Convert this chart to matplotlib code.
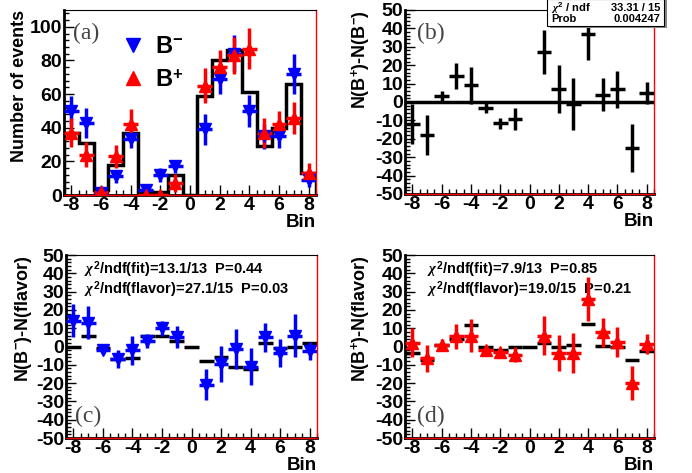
import numpy as np
import matplotlib
matplotlib.use("Agg")
import matplotlib.pyplot as plt
from matplotlib.ticker import MultipleLocator
from matplotlib.lines import Line2D
from matplotlib.patches import Rectangle

plt.rcParams['font.family'] = ['Liberation Sans', 'DejaVu Sans']
plt.rcParams['font.weight'] = 'bold'
plt.rcParams['axes.unicode_minus'] = False
plt.rcParams['mathtext.fontset'] = 'custom'
plt.rcParams['mathtext.rm'] = 'Liberation Sans:bold'
plt.rcParams['mathtext.bf'] = 'Liberation Sans:bold'
plt.rcParams['mathtext.it'] = 'Liberation Serif:italic'

# ---- data ----
bins = np.arange(-8, 9)                       # all 17 bins
bins_nz = np.array([b for b in bins if b != 0])  # bins with points

hist_sum = [37, 31, 3, 18, 37, 2, 2, 12, 0, 59, 80, 86, 61, 29, 40, 66, 13]

n_minus = [50, 43, 1, 11, 33, 3, 12, 17, 39, 69, 84, 50, 35, 35, 72, 9]
n_minus_err = [9, 9, 2, 4, 5, 3, 4, 4, 9, 9, 11, 9.5, 7.5, 7, 12, 4]
n_plus = [37, 24, 2, 23, 42, 0, 0, 7, 65, 76, 83, 87, 37, 42, 46, 13]
n_plus_err = [8.5, 7.5, 3.5, 7, 9, 1.5, 1, 5.5, 10.5, 10, 11, 12, 9, 8, 9.5, 6]

diff = [-12, -18, 3, 14, 9, -3, -11.5, -9, 27, 7, -1, 37, 4, 7, -25, 5]
diff_err = [11, 11, 3, 7, 10, 3, 3, 6, 12, 13, 14, 14, 9, 10, 13, 6]

flav_minus = [0, 6, -1, -7, -6.5, 5.5, 6, 3, 0, -8, -6, -11, -12.5, 2, -1, 0, 2]
res_minus = [14, 13, -2, -7, -2, 3, 10, 5, -21, -9.5, -1.5, -11, 5, -3.5, 6, -2.5]
res_minus_err = [9, 9, 2, 5, 8, 4, 4, 6, 8.5, 10, 11, 10, 8, 7.5, 11.5, 5]

flav_plus = [-3.5, -7.5, 1, 4, 12, -0.5, -2, 0, 0, 2, 0, 1, 12.3, 0.5, -0.5, -7.5, -2.5]
res_plus = [2, -6.5, 1, 5.5, 6, -2, -3, -4.5, 6, -3.5, -3.5, 26, 7.7, 2.5, -20, 1.5]
res_plus_err = [8, 7.5, 3, 7, 9, 2, 1.5, 4, 10.5, 10, 11, 12, 8, 8, 9.5, 5.5]

chi2_c = [r"$\chi^{2}$/ndf(fit)=13.1/13  P=0.44", r"$\chi^{2}$/ndf(flavor)=27.1/15  P=0.03"]
chi2_d = [r"$\chi^{2}$/ndf(fit)=7.9/13  P=0.85", r"$\chi^{2}$/ndf(flavor)=19.0/15  P=0.21"]

BLUE = "#0000ff"
RED = "#ff0000"
W, H = 692, 473

fig = plt.figure(figsize=(6.92, 4.73), dpi=100)


def px_axes(l, t, r, b):
    return fig.add_axes([l / W, 1 - b / H, (r - l) / W, (b - t) / H])


def style(ax, ylim, ymaj, ymin, ylabel):
    ax.set_xlim(-8.5, 8.5)
    ax.set_ylim(*ylim)
    ax.xaxis.set_major_locator(MultipleLocator(2))
    ax.xaxis.set_minor_locator(MultipleLocator(0.5))
    ax.yaxis.set_major_locator(MultipleLocator(ymaj))
    ax.yaxis.set_minor_locator(MultipleLocator(ymin))
    ax.tick_params(which="both", direction="in", top=False, right=False,
                   labelsize=14, width=1, pad=1.5)
    ax.tick_params(which="major", length=7)
    ax.tick_params(which="minor", length=3.5)
    for lab in ax.get_xticklabels() + ax.get_yticklabels():
        lab.set_fontweight("bold")
    ax.spines["left"].set_linewidth(2)
    ax.spines["bottom"].set_linewidth(2)
    ax.spines["top"].set_linewidth(0.8)
    ax.spines["right"].set_linewidth(1)
    ax.spines["right"].set_color(RED)
    # ROOT draws the red frame line over the bottom axis too
    ax.plot([0, 1], [0, 0], transform=ax.transAxes, color=RED, lw=1,
            clip_on=False, zorder=5)
    ax.set_xlabel("Bin", loc="right", fontsize=13.5, fontweight="bold", labelpad=0)
    ax.set_ylabel(ylabel, loc="top", fontsize=13, fontweight="bold", labelpad=1)


def points(ax, x, y, e, color, marker):
    ax.errorbar(x, y, yerr=e, xerr=0.5, fmt=marker, color=color, ms=8.5,
                elinewidth=2.5, capsize=0, zorder=4)


def tag(ax, text, x, y):
    ax.text(x, y, text, fontsize=17, family="Liberation Serif",
            fontweight="normal", color="#444444", va="center", ha="left")


# (a) event yields
ax = px_axes(64, 10, 316, 195)
ax.stairs(hist_sum, np.arange(-8.5, 9.5, 1), color="black", lw=2.5, baseline=0, zorder=3)
points(ax, bins_nz, n_minus, n_minus_err, BLUE, "v")
points(ax, bins_nz, n_plus, n_plus_err, RED, "^")
style(ax, (0, 110), 20, 4, "Number of events")
tag(ax, "(a)", -7.9, 96)
handles = [Line2D([], [], ls="none", marker="v", color=BLUE, ms=10),
           Line2D([], [], ls="none", marker="^", color=RED, ms=10)]
ax.legend(handles, ["B$^{-}$", "B$^{+}$"], loc="upper left",
          bbox_to_anchor=(0.135, 0.98), frameon=False, prop=dict(size=17, weight="bold"),
          handletextpad=0.3, labelspacing=0.45, handlelength=1.2)

# (b) B+ - B- difference
ax = px_axes(405, 10, 654, 194)
ax.axhline(0, color="black", lw=2.5, zorder=2)
ax.errorbar(bins_nz, diff, yerr=diff_err, xerr=0.5, fmt="none", ecolor="black",
            elinewidth=2.5, capsize=0, zorder=3)
style(ax, (-50, 50), 10, 2, "N(B$^{+}$)-N(B$^{-}$)")
tag(ax, "(b)", -7.7, 37)

# stats box
fig.add_artist(Rectangle((550 / W, 1 - 28 / H), 117 / W, 28 / H, transform=fig.transFigure,
                         facecolor="#888888", edgecolor="none", zorder=9))
fig.add_artist(Rectangle((547 / W, 1 - 26 / H), 117 / W, 27 / H, transform=fig.transFigure,
                         facecolor="white", edgecolor="black", lw=0.8, zorder=10))
fig.text(551 / W, 1 - 8 / H, r"$\chi^{2}$ / ndf", fontsize=8, fontweight="bold",
         va="center", ha="left", zorder=11)
fig.text(660 / W, 1 - 8 / H, "33.31 / 15", fontsize=8, fontweight="bold",
         va="center", ha="right", zorder=11)
fig.text(551 / W, 1 - 19.5 / H, "Prob", fontsize=8, fontweight="bold",
         va="center", ha="left", zorder=11)
fig.text(660 / W, 1 - 19.5 / H, "0.004247", fontsize=8, fontweight="bold",
         va="center", ha="right", zorder=11)

# (c) B- residuals vs flavor
ax = px_axes(66, 255, 317, 438)
ax.hlines(flav_minus, bins - 0.5, bins + 0.5, color="black", lw=2.5, zorder=3)
points(ax, bins_nz, res_minus, res_minus_err, BLUE, "v")
style(ax, (-50, 50), 10, 2, "N(B$^{-}$)-N(flavor)")
tag(ax, "(c)", -7.9, -38)
ax.text(-7.3, 42, chi2_c[0], fontsize=10.5, fontweight="bold", va="center")
ax.text(-7.3, 31, chi2_c[1], fontsize=10.5, fontweight="bold", va="center")

# (d) B+ residuals vs flavor
ax = px_axes(405, 255, 654, 438)
ax.hlines(flav_plus, bins - 0.5, bins + 0.5, color="black", lw=2.5, zorder=3)
points(ax, bins_nz, res_plus, res_plus_err, RED, "^")
style(ax, (-50, 50), 10, 2, "N(B$^{+}$)-N(flavor)")
tag(ax, "(d)", -7.7, -38)
ax.text(-7.0, 42, chi2_d[0], fontsize=10.5, fontweight="bold", va="center")
ax.text(-7.0, 31, chi2_d[1], fontsize=10.5, fontweight="bold", va="center")

fig.savefig("out.png", dpi=100)
